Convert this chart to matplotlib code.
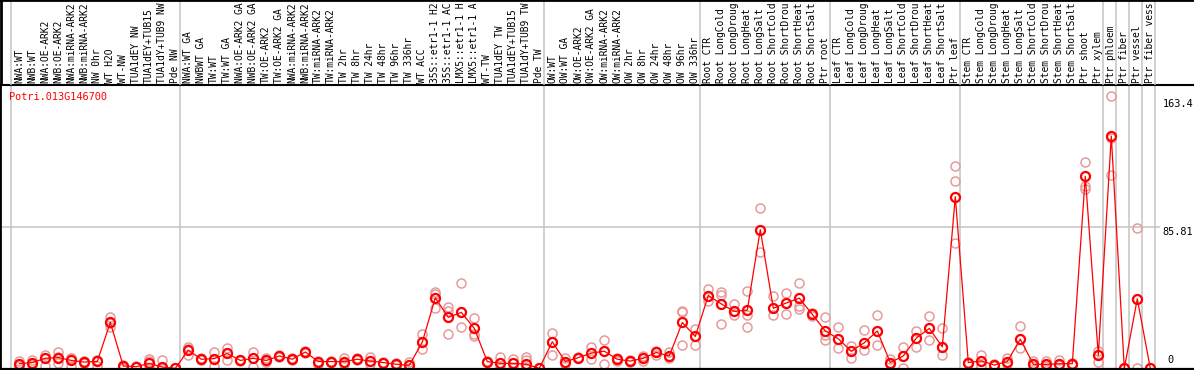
import numpy as np
from matplotlib import pyplot as plt

# sample names, in plot order
labels = [
    "NWA:WT", "NWB:WT", "NWA:OE-ARK2", "NWB:OE-ARK2", "NWA:miRNA-ARK2", "NWB:miRNA-ARK2",
    "NW 0hr", "WT H2O", "WT-NW", "TUA1dEY NW", "TUA1dEY+TUB15", "TUA1dY+TUB9 NW", "Pde NW",
    "NWA:WT GA", "NWBWT GA", "TW:WT", "TW:WT GA", "NWA:OE-ARK2 GA", "NWB:OE-ARK2 GA",
    "TW:OE-ARK2", "TW:OE-ARK2 GA", "NWA:miRNA-ARK2", "NWB:miRNA-ARK2", "TW:miRNA-ARK2",
    "TW:miRNA-ARK2", "TW 2hr", "TW 8hr", "TW 24hr", "TW 48hr", "TW 96hr", "TW 336hr",
    "WT ACC", "35S::etr1-1 H2O", "35S::etr1-1 ACC", "LMX5::etr1-1 H2O", "LMX5::etr1-1 ACC",
    "WT-TW", "TUA1dEY TW", "TUA1dEY+TUB15", "TUA1dY+TUB9 TW", "Pde TW",
    "OW:WT", "OW:WT GA", "OW:OE-ARK2", "OW:OE-ARK2 GA", "OW:miRNA-ARK2", "OW:miRNA-ARK2",
    "OW 2hr", "OW 8hr", "OW 24hr", "OW 48hr", "OW 96hr", "OW 336hr",
    "Root CTR", "Root LongCold", "Root LongDrought", "Root LongHeat", "Root LongSalt",
    "Root ShortCold", "Root ShortDrought", "Root ShortHeat", "Root ShortSalt", "Ptr root",
    "Leaf CTR", "Leaf LongCold", "Leaf LongDrought", "Leaf LongHeat", "Leaf LongSalt",
    "Leaf ShortCold", "Leaf ShortDrought", "Leaf ShortHeat", "Leaf ShortSalt", "Ptr leaf",
    "Stem CTR", "Stem LongCold", "Stem LongDrought", "Stem LongHeat", "Stem LongSalt",
    "Stem ShortCold", "Stem ShortDrought", "Stem ShortHeat", "Stem ShortSalt",
    "Ptr shoot", "Ptr xylem", "Ptr phloem", "Ptr fiber", "Ptr vessel", "Ptr fiber vessel",
]

# index where each group starts (for the grey separators)
group_starts = [0, 13, 41, 53, 63, 73, 84, 85, 86, 87, 88]

means = [
    2.8, 3.5, 6.1, 6.5, 4.8, 3.8, 4.2, 27.8, 1.4, 1.0, 3.0, 0.8, 0.0,
    11.0, 5.5, 5.9, 9.0, 4.8, 6.1, 4.8, 7.5, 5.5, 9.9, 4.1, 4.1, 4.1, 5.5, 4.4, 3.5,
    2.5, 1.8, 15.9, 42.7, 30.9, 33.9, 24.2, 4.1, 3.0, 3.0, 2.5, 0.0,
    16.1, 4.1, 6.5, 9.2, 10.4, 5.5, 4.4, 6.1, 9.6, 7.5, 27.8, 19.3,
    44.1, 39.0, 34.5, 35.3, 84.0, 36.4, 39.6, 42.5, 32.7, 22.6,
    17.9, 10.4, 15.5, 22.6, 3.5, 7.5, 18.3, 24.2, 13.0, 104.0,
    3.5, 4.5, 2.0, 4.1, 17.7, 2.4, 2.4, 2.8, 2.8, 116.3, 7.9,
    140.7, 0.0, 42.1, 0.0,
]

reps = [
    [4.6, 2.6, 1.2], [4.8, 3.5, 2.2], [8.0, 6.0, 1.6], [9.6, 7.0, 3.4], [6.5, 6.0, 1.2],
    [4.6, 3.8, 3.2], [5.3, 5.0, 1.2], [31.4, 27.5, 24.8], [1.8, 1.2, 0.4], [1.5, 1.0, 0.6],
    [5.5, 4.2, 0.4], [4.8, 0.5, 0.2], [0.3, 0.0, 0.0],
    [12.9, 11.5, 7.9], [6.0, 5.5, 4.8], [9.6, 5.9, 1.6], [12.6, 9.0, 4.8], [5.2, 4.8, 4.4],
    [10.0, 6.0, 1.1], [6.5, 4.8, 4.0], [8.0, 7.5, 7.0], [6.0, 5.5, 5.0], [10.5, 9.9, 9.3],
    [4.5, 4.1, 2.5], [4.5, 4.1, 3.7], [6.5, 4.1, 2.5], [6.0, 5.5, 5.0], [7.1, 4.4, 2.5],
    [4.0, 3.5, 3.0], [3.0, 2.5, 2.0], [4.1, 1.8, 0.5], [20.7, 15.9, 12.0], [46.5, 45.0, 36.4],
    [37.0, 35.0, 21.0], [51.6, 33.9, 24.8], [30.3, 20.7, 19.3], [4.6, 4.1, 3.6],
    [6.9, 3.0, 0.0], [5.9, 3.0, 0.5], [6.9, 4.8, 0.5], [0.4, 0.0, 0.0],
    [21.3, 16.1, 8.3], [6.5, 4.1, 2.5], [7.0, 6.5, 6.0], [12.9, 9.2, 5.9], [17.1, 10.4, 2.8],
    [6.0, 5.5, 4.5], [4.8, 4.4, 4.0], [7.5, 6.1, 4.5], [10.5, 9.6, 8.0], [9.6, 7.5, 6.0],
    [35.0, 34.0, 14.2], [23.8, 19.3, 14.2],
    [48.2, 44.1, 41.0], [46.5, 44.5, 26.8], [39.0, 34.5, 32.3], [47.1, 32.3, 25.2],
    [97.4, 84.0, 70.5], [44.0, 36.4, 32.5], [45.7, 39.6, 32.7], [51.6, 37.8, 35.8],
    [33.5, 32.7, 32.0], [31.1, 20.1, 17.1],
    [24.8, 17.9, 12.6], [13.5, 10.4, 6.5], [23.0, 15.5, 11.4], [32.5, 22.6, 14.2],
    [5.5, 3.5, 2.5], [12.8, 7.5, 0.4], [22.4, 18.3, 12.8], [31.5, 24.2, 16.9],
    [24.6, 13.0, 7.9], [122.4, 113.2, 76.0],
    [4.0, 3.5, 3.0], [8.1, 4.5, 1.4], [2.5, 2.0, 1.5], [6.0, 4.1, 2.5], [25.4, 17.7, 12.6],
    [4.5, 2.4, 1.5], [4.5, 2.4, 1.5], [4.8, 2.8, 2.0], [3.5, 2.8, 2.2],
    [124.8, 110.2, 108.6], [10.5, 7.9, 3.9], [165.0, 139.6, 117.2], [0.3, 0.0, 0.0],
    [84.7, 42.1, 0.4], [0.3, 0.0, 0.0],
]

gene = "Potri.013G146700"
y_ticks = [163.4, 85.81, 0]

MONO = "DejaVu Sans Mono"
RED = "#ff0000"
PINK = "#e89a9a"
GRID = "#c4c4c4"
MAX_CHARS = 14       # the label strip only fits this many characters

W, H = 1194, 370
TOP_PX = 85          # height of the label strip
X0_PX, STEP_PX = 19.3, 13.0
xlim = ((0 - X0_PX) / STEP_PX, (W - X0_PX) / STEP_PX)

fig = plt.figure(figsize=(W / 100, H / 100), dpi=100)
ax = fig.add_axes([0, 0, 1, (H - TOP_PX) / H])
lab = fig.add_axes([0, (H - TOP_PX) / H, 1, TOP_PX / H], sharex=ax)

x = np.arange(len(means))

#replicates first, then the mean line on top
rx = np.repeat(x, [len(r) for r in reps])
ry = np.concatenate([np.array(r, dtype=float) for r in reps])
ax.plot(rx, ry, linestyle="none", marker="o", markersize=6.5, markerfacecolor="none",
        markeredgecolor=PINK, markeredgewidth=1.1, zorder=3)
ax.plot(x, means, color=RED, linewidth=0.9, marker="o", markersize=6.5,
        markerfacecolor="none", markeredgecolor=RED, markeredgewidth=1.6, zorder=4)

# group separators go through both strips
for s in group_starts:
    for a in (ax, lab):
        a.axvline(s - 0.62, color=GRID, linewidth=1.1, zorder=1)

ax.set_xlim(*xlim)
ax.set_ylim(-1.0, 171.6)
x_end = (1160 - X0_PX) / STEP_PX
ax.hlines(y_ticks[1], xlim[0], x_end, color=GRID, linewidth=1.1, zorder=1)
ax.text(x_end + 0.2, y_ticks[0], f"{y_ticks[0]:g}", fontsize=7.4, family=MONO,
        ha="left", va="top")
ax.text(x_end + 0.2, y_ticks[1], f"{y_ticks[1]:g}", fontsize=7.4, family=MONO,
        ha="left", va="top")
ax.text(x_end + 0.6, 2.0, f"{y_ticks[2]:g}", fontsize=7.4, family=MONO,
        ha="left", va="bottom")

ax.set_xticks([])
ax.set_yticks([])
for side in ("right", "bottom"):
    ax.spines[side].set_visible(False)
ax.spines["left"].set_linewidth(2.0)
ax.spines["top"].set_linewidth(1.5)
ax.axhline(-0.4, color="black", linewidth=1.6, zorder=5)

# rotated sample names
lab.set_ylim(0, 1)
lab.axis("off")
for i, name in enumerate(labels):
    lab.text(i, 0.025, name[:MAX_CHARS], rotation=90, ha="center", va="bottom",
             fontsize=6.9, family=MONO)
lab.axhline(1, color="black", linewidth=2.0)
lab.axvline(xlim[0] + 0.04, color="black", linewidth=2.0)

fig.text(9 / W, 1 - 92 / H, gene, color=RED, fontsize=7.4, family=MONO,
         ha="left", va="top")

fig.savefig("out.png", dpi=100)
